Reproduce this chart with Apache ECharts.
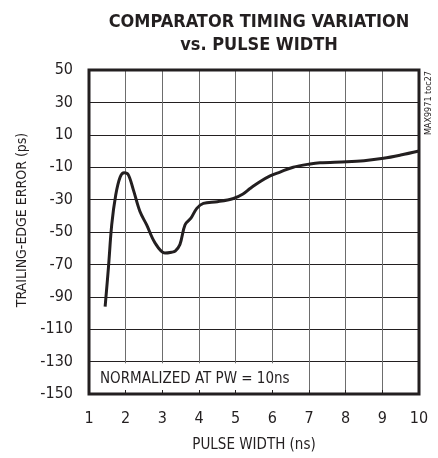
<!DOCTYPE html>
<html>
<head>
<meta charset="utf-8">
<script src="https://cdn.jsdelivr.net/npm/echarts@6/dist/echarts.min.js"></script>
<style>
html,body{margin:0;padding:0;background:#fff;}
#chart{width:438px;height:458px;}
</style>
</head>
<body>
<div id="chart"></div>
<script>
const titleLines = ['COMPARATOR TIMING VARIATION', 'vs. PULSE WIDTH'];
const xAxisName = 'PULSE WIDTH (ns)';
const yAxisName = 'TRAILING-EDGE ERROR (ps)';
const noteText = 'NORMALIZED AT PW = 10ns';
const tocText = 'MAX9971 toc27';
const pulseWidth = [1.44, 1.53, 1.62, 1.73, 1.85, 1.96, 2.07, 2.21, 2.39, 2.57, 2.8, 3.07, 3.25, 3.35, 3.48, 3.62, 3.78, 3.94, 4.12, 4.5, 4.94, 5.2, 5.39, 5.66, 5.94, 6.21, 6.57, 7.03, 7.3, 8.03, 8.5, 9.03, 9.5, 10];
const errorPs = [-96, -72, -45.5, -27, -16, -13.4, -14.6, -24, -37.4, -45.5, -56.7, -63, -62.5, -61.8, -57.7, -45.5, -41.5, -35.4, -32.3, -31.3, -29.3, -26.5, -23.2, -19, -15.4, -13, -10, -8, -7.3, -6.7, -6, -4.5, -2.5, 0];
const noteBox = [[1, -150], [6.5, -131]];

const FONT = '"Liberation Sans Narrow", "DejaVu Sans Condensed", "Arial Narrow", sans-serif';
const INK = '#231f20';

const chart = echarts.init(document.getElementById('chart'), null, {renderer: 'canvas'});
const data = pulseWidth.map((x, i) => [x, errorPs[i]]);

chart.setOption({
  animation: false,
  backgroundColor: '#fff',
  title: {
    text: titleLines.join('\n'),
    left: 254,
    top: 6,
    textAlign: 'center',
    textStyle: {fontFamily: FONT, fontWeight: 'bold', fontSize: 18, lineHeight: 23, color: INK}
  },
  grid: {left: 89, right: 19, top: 70, bottom: 60, show: true, borderColor: INK, borderWidth: 3, z: 5},
  xAxis: [{
    type: 'value', min: 1, max: 10, interval: 1, z: 0,
    axisLine: {show: false}, axisTick: {show: false}, axisLabel: {show: false},
    splitLine: {show: true, lineStyle: {color: '#6d6d6d', width: 1}}
  }, {
    type: 'value', min: 1, max: 10, interval: 1, position: 'bottom', z: 4,
    name: xAxisName, nameLocation: 'middle', nameGap: 44,
    nameTextStyle: {fontFamily: FONT, fontSize: 15, color: INK},
    axisLine: {show: false},
    axisTick: {show: true, inside: true, length: 4, lineStyle: {color: INK, width: 1}},
    axisLabel: {margin: 17, fontFamily: FONT, fontSize: 16, color: INK},
    splitLine: {show: false}
  }],
  yAxis: {
    type: 'value', min: -150, max: 50, interval: 20,
    name: yAxisName, nameLocation: 'middle', nameGap: 58,
    nameTextStyle: {fontFamily: FONT, fontSize: 14, color: INK, padding: [0, 0, 0, 24]},
    axisLine: {show: false}, axisTick: {show: false},
    axisLabel: {margin: 16, fontFamily: FONT, fontSize: 16, color: INK},
    splitLine: {show: true, lineStyle: {color: INK, width: 1}}
  },
  graphic: [{
    type: 'text', x: 429, y: 71, rotation: Math.PI / 2, z: 10,
    style: {text: tocText, fontFamily: FONT, fontSize: 9, fill: INK, align: 'right', verticalAlign: 'middle'}
  }],
  series: [{
    type: 'line',
    xAxisIndex: 0,
    data: data,
    smooth: 0.35,
    symbol: 'none',
    lineStyle: {color: INK, width: 3},
    markArea: {
      silent: true,
      itemStyle: {color: '#fff'},
      label: {show: true, position: 'insideLeft', distance: 11, formatter: noteText, fontFamily: FONT, fontSize: 15, color: INK},
      data: [[{coord: noteBox[0]}, {coord: noteBox[1]}]]
    }
  }]
});
</script>
</body>
</html>
